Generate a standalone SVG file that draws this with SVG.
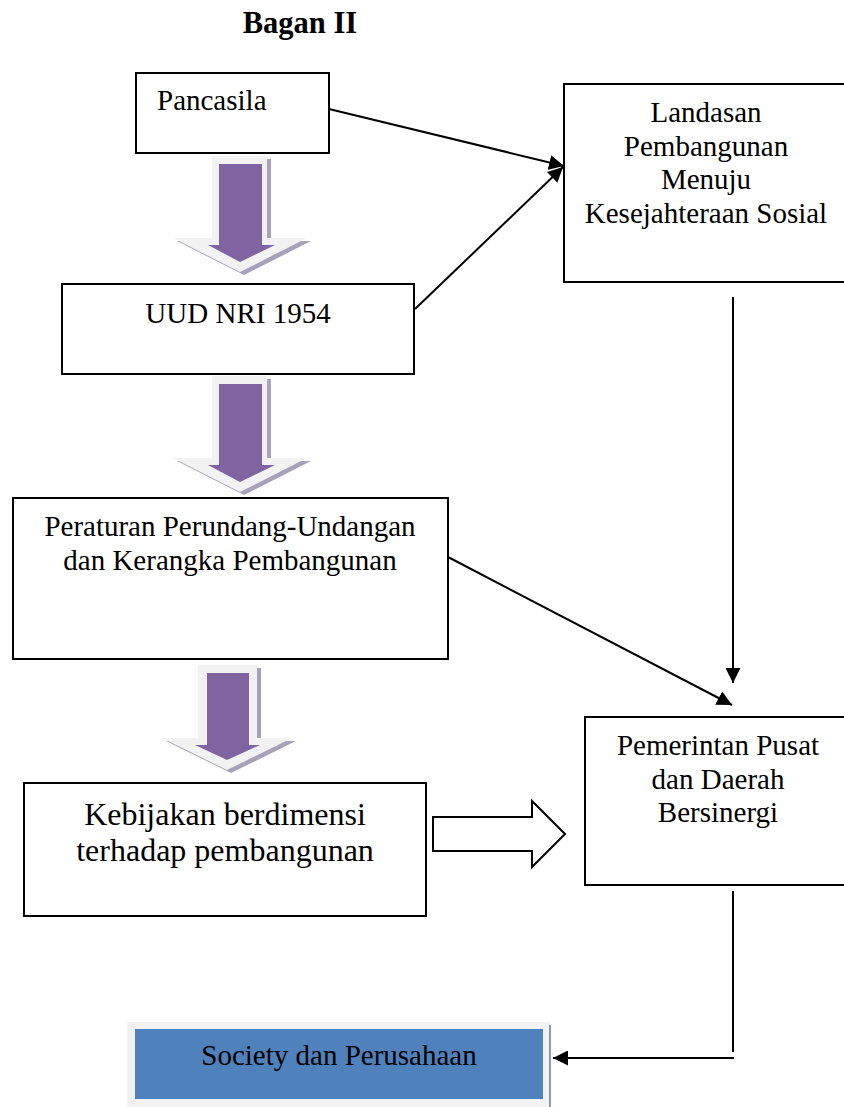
<svg xmlns="http://www.w3.org/2000/svg" width="844" height="1107" viewBox="0 0 844 1107">
<style>
.box{fill:#fff;stroke:#000;stroke-width:2}
.t{font-family:"Liberation Serif","Times New Roman",serif;font-size:29px;fill:#000}
.c{text-anchor:middle}
.con{stroke:#000;stroke-width:2;fill:none}
.sh{fill:#a7a1bb}
.lt{fill:#f2f2f2}
.pu{fill:#8064a2}
</style>
<defs>
<marker id="ah" viewBox="0 0 10 10" refX="10" refY="5" markerWidth="8" markerHeight="8" markerUnits="userSpaceOnUse" orient="auto">
<path d="M0,0 L10,5 L0,10 Z" fill="#000"/>
</marker>
<marker id="ah2" viewBox="0 0 10 10" refX="10" refY="5" markerWidth="7.5" markerHeight="7.5" orient="auto">
<path d="M0,0 L10,5 L0,10 Z" fill="#000"/>
</marker>
</defs>
<rect width="844" height="1107" fill="#fff"/>
<text x="300" y="33" class="t c" style="font-weight:bold;font-size:30.5px">Bagan II</text>

<g id="pancasila">
<rect class="box" x="136" y="73" width="193" height="80"/>
<text x="157" y="110" class="t">Pancasila</text>
</g>
<g id="landasan">
<rect class="box" x="564" y="84" width="290" height="198"/>
<text class="t c" x="706" y="122">Landasan</text>
<text class="t c" x="706" y="155.5">Pembangunan</text>
<text class="t c" x="706" y="189">Menuju</text>
<text class="t c" x="706" y="222.5">Kesejahteraan Sosial</text>
</g>
<g id="uud">
<rect class="box" x="62" y="284" width="352" height="90"/>
<text class="t c" x="238" y="323">UUD NRI 1954</text>
</g>
<g id="peraturan">
<rect class="box" x="13" y="498" width="435" height="161"/>
<text class="t c" x="230" y="536">Peraturan Perundang-Undangan</text>
<text class="t c" x="230" y="570">dan Kerangka Pembangunan</text>
</g>
<g id="kebijakan">
<rect class="box" x="24" y="783" width="402" height="133"/>
<text class="t c" x="225" y="825" style="font-size:32px">Kebijakan berdimensi</text>
<text class="t c" x="225" y="861" style="font-size:32px">terhadap pembangunan</text>
</g>
<g id="pemerintan">
<rect class="box" x="585" y="717" width="270" height="168"/>
<text class="t c" x="718" y="755">Pemerintan Pusat</text>
<text class="t c" x="718" y="788.5">dan Daerah</text>
<text class="t c" x="718" y="822">Bersinergi</text>
</g>
<g id="society">
<rect x="127" y="1022" width="423" height="85" fill="#f2f2f2"/>
<rect x="549" y="1025" width="2" height="82" fill="#8d9bb2"/>
<rect x="135" y="1029" width="408" height="70" fill="#4f81bd"/>
<text class="t c" x="339" y="1065">Society dan Perusahaan</text>
</g>

<g id="block-arrows">
<g transform="translate(240,156)">
<path class="sh" transform="translate(4,3)" d="M-28 0 H27 V82 H67 L0 116 L-67 82 H-28 Z"/>
<path class="lt" d="M-28 0 H27 V82 H67 L0 116 L-67 82 H-28 Z"/>
<path class="pu" d="M-21 8 H22 V89 H35 L0 106 L-32 89 H-21 Z"/>
</g>
<g transform="translate(240,376)">
<path class="sh" transform="translate(4,3)" d="M-28 0 H27 V82 H67 L0 116 L-67 82 H-28 Z"/>
<path class="lt" d="M-28 0 H27 V82 H67 L0 116 L-67 82 H-28 Z"/>
<path class="pu" d="M-21 8 H22 V89 H35 L0 106 L-32 89 H-21 Z"/>
</g>
<g transform="translate(227,665)">
<path class="sh" transform="translate(4,3)" d="M-29 0 H30 V73 H65 L0 105 L-65 73 H-29 Z"/>
<path class="lt" d="M-29 0 H30 V73 H65 L0 105 L-65 73 H-29 Z"/>
<path class="pu" d="M-20 8 H22 V80 H33 L0 95 L-32 80 H-20 Z"/>
</g>
<path d="M433 817 H532 V801 L565 834 L532 867 V851 H433 Z" fill="#fff" stroke="#000" stroke-width="2"/>
</g>

<g id="connectors">
<line class="con" x1="329" y1="109" x2="564" y2="166" marker-end="url(#ah2)"/>
<line class="con" x1="415" y1="309" x2="563" y2="167" marker-end="url(#ah2)"/>
<line class="con" x1="733" y1="297" x2="733" y2="683" marker-end="url(#ah2)"/>
<line class="con" x1="448" y1="557" x2="732" y2="705" marker-end="url(#ah2)"/>
<line class="con" x1="733" y1="891" x2="733" y2="1052"/>
<line class="con" x1="734" y1="1058" x2="553" y2="1058" marker-end="url(#ah2)"/>
</g>
</svg>
